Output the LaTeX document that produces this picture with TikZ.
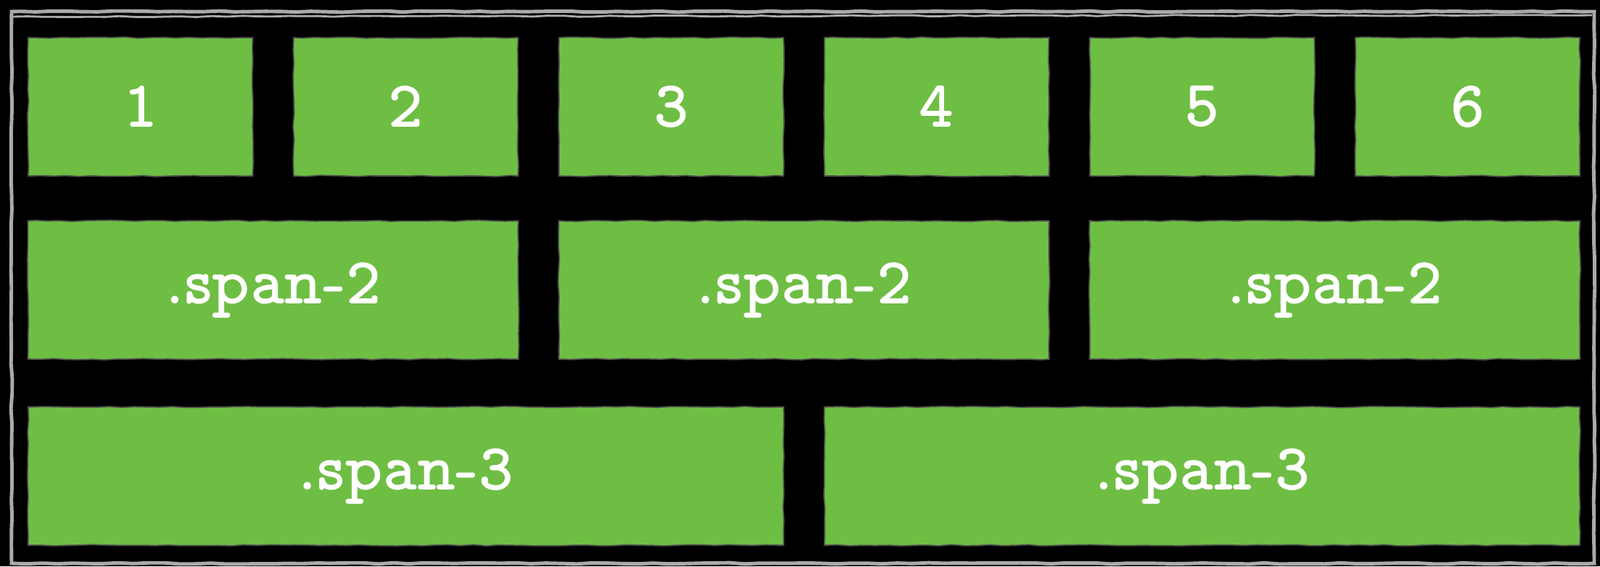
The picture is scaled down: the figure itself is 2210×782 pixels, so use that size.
\documentclass[tikz,border=0pt]{standalone}
\usepackage{fontspec}
\newfontfamily\cellfont{lmmonoproplt10-bold}[Extension=.otf]
\usetikzlibrary{decorations.pathmorphing}
\definecolor{gridgreen}{RGB}{110,190,68}
\definecolor{framegray}{RGB}{170,170,170}

\begin{document}
\begin{tikzpicture}[
    x=0.01cm, y=-0.01cm,
    rough/.style={decorate, decoration={random steps, segment length=5pt, amplitude=0.25pt}},
    cell/.style={rough, fill=gridgreen, draw=black!70, line width=0.5pt,
      minimum height=1.91cm, inner sep=0pt, text=white,
      font=\fontsize{26}{26}\selectfont\cellfont},
    one/.style={cell, minimum width=3.10cm},
    two/.style={cell, minimum width=6.77cm},
    three/.style={cell, minimum width=10.43cm},
    edge/.style={decorate, decoration={random steps, segment length=6pt, amplitude=0.25pt},
      draw=framegray, line width=1.4pt},
  ]
    \def\cx{366.6}  % column pitch

    % board and its frame
    \fill[black] (0,0) rectangle (2210,782);
    \draw[edge] (16,16) rectangle (2202,778);
    \draw[edge, line width=0.8pt] (18,23) -- (2199,21);

    % Row 1: one column each
    \node[one] (c1) at (194, 147.5) {1};
    \node[one] (c2) at (194+\cx, 147.5) {2};
    \node[one] (c3) at (194+2*\cx, 147.5) {3};
    \node[one] (c4) at (194+3*\cx, 147.5) {4};
    \node[one] (c5) at (194+4*\cx, 147.5) {5};
    \node[one] (c6) at (194+5*\cx, 147.5) {6};

    % Row 2: two columns each
    \node[two] (s2a) at (377.3, 400.5) {.span-2};
    \node[two] (s2b) at (377.3+2*\cx, 400.5) {.span-2};
    \node[two] (s2c) at (377.3+4*\cx, 400.5) {.span-2};

    % Row 3: three columns each
    \node[three] (s3a) at (560.6, 657.5) {.span-3};
    \node[three] (s3b) at (560.6+3*\cx, 657.5) {.span-3};
  \end{tikzpicture}
\end{document}
